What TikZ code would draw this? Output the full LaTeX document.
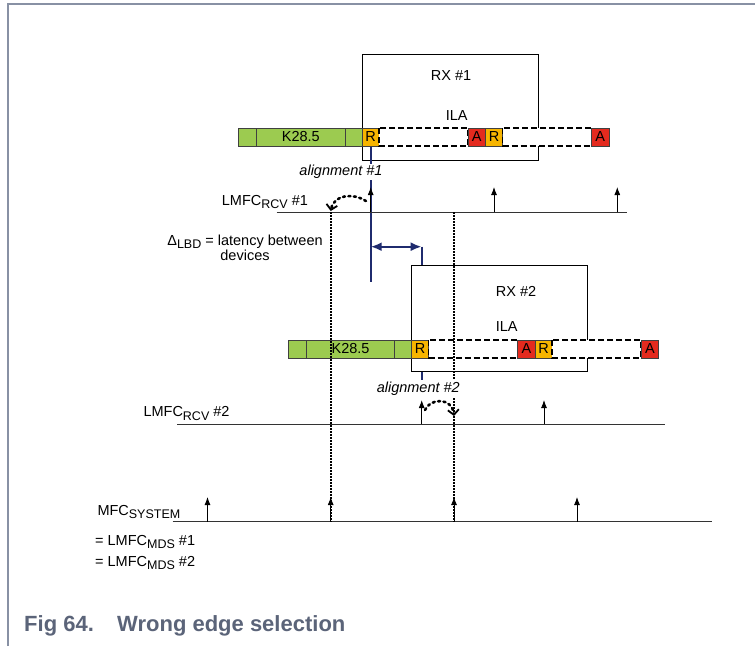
\documentclass[tikz,border=0pt]{standalone}
\usepackage{fontspec}
\setmainfont{Liberation Sans}
\usetikzlibrary{arrows.meta}
\definecolor{cgreen}{HTML}{9CCB50}
\definecolor{corange}{HTML}{F7B500}
\definecolor{cred}{HTML}{E42A1E}
\definecolor{cnavy}{HTML}{1F2B6E}
\definecolor{cframe}{HTML}{8891A4}
\definecolor{ccap}{HTML}{5B6479}
\newcommand{\subt}[1]{\raisebox{-3.5pt}{\fontsize{12.5}{13}\selectfont #1}}
\begin{document}
\begin{tikzpicture}[x=1pt,y=-1pt,
 txt/.style={font=\fontsize{14.5}{16}\selectfont, inner sep=0pt},
 ital/.style={font=\fontsize{14.5}{16}\selectfont\itshape, inner sep=1.5pt, fill=white},
 cellbox/.style={draw=black!75, line width=0.6pt, inner sep=0pt, outer sep=0pt, minimum height=18pt, anchor=west, font=\fontsize{14.5}{16}\selectfont},
 gcell/.style={cellbox, fill=cgreen},
 rcell/.style={cellbox, fill=corange},
 acell/.style={cellbox, fill=cred},
 dashbox/.style={draw=black, fill=white, line width=1.5pt, dash pattern=on 6pt off 3pt},
 rxbox/.style={draw=black, fill=white, line width=0.7pt},
 tick/.style={-{Latex[length=8pt,width=6pt]}, line width=0.9pt},
 timeline/.style={draw=black!80, line width=0.9pt},
 vdot/.style={line width=1.6pt, dash pattern=on 1.5pt off 1.5pt},
 curvy/.style={line width=2.6pt, line cap=round, dash pattern=on 2pt off 3.5pt, -{Straight Barb[length=5pt,width=11pt,line width=1.8pt]}},
 navy/.style={draw=cnavy, line width=2.4pt}
]
\fill[white] (0,0) rectangle (755,646);
\useasboundingbox (0,0) rectangle (755,646);
\draw[cframe, line width=1.8pt] (8,646) -- (8,4) -- (755,4);

% ---------- RX #1 ----------
\begin{scope}[shift={(362,54)}]
\draw[rxbox] (0,0) rectangle (176,106);
\node[gcell, minimum width=18.4pt] (g1a) at (-123.7,83) {};
\node[gcell, minimum width=88.3pt] (g1b) at (-105.3,83) {K28.5};
\node[gcell, minimum width=17pt] (g1c) at (-17,83) {};
\node[rcell, minimum width=17pt] (r1a) at (0,83) {R};
\draw[dashbox] (17,74) rectangle (106,92);
\node[acell, minimum width=17.5pt] (a1a) at (106,83) {A};
\node[rcell, minimum width=17pt] (r1b) at (123.5,83) {R};
\draw[dashbox] (140.5,74) rectangle (229.5,92);
\node[acell, minimum width=17.5pt] (a1b) at (229.5,83) {A};
\node[txt] (rx1t) at (89,22) {RX \#1};
\node[txt] (ila1) at (94.7,62) {ILA};
\end{scope}

% ---------- blue latency markers ----------
\draw[navy] (370.7,147) -- (370.7,282);
\draw[navy] (421.7,246.7) -- (421.7,265);
\draw[navy] (421.7,371) -- (421.7,380);
\draw[navy, {Latex[length=11pt,width=9pt]}-{Latex[length=11pt,width=9pt]}] (370.7,246.7) -- (421.7,246.7);

% ---------- RX #2 ----------
\begin{scope}[shift={(411.7,265)}]
\draw[rxbox] (0,0) rectangle (176,106);
\node[gcell, minimum width=18.4pt] (g2a) at (-123.7,84) {};
\node[gcell, minimum width=88.3pt] (g2b) at (-105.3,84) {K28.5};
\node[gcell, minimum width=17pt] (g2c) at (-17,84) {};
\node[rcell, minimum width=17pt] (r2a) at (0,84) {R};
\draw[dashbox] (17,75) rectangle (106,93);
\node[acell, minimum width=17.5pt] (a2a) at (106,84) {A};
\node[rcell, minimum width=17pt] (r2b) at (123.5,84) {R};
\draw[dashbox] (140.5,75) rectangle (229.5,93);
\node[acell, minimum width=17.5pt] (a2b) at (229.5,84) {A};
\node[txt] (rx2t) at (104.3,26) {RX \#2};
\node[txt] (ila2) at (95,61.7) {ILA};
\end{scope}

% ---------- timelines ----------
\coordinate (l1s) at (276.7,212.3); \coordinate (l1e) at (626.7,212.3);
\coordinate (l2s) at (177.3,424.3); \coordinate (l2e) at (665,424.3);
\coordinate (l3s) at (172.7,521.5); \coordinate (l3e) at (712,521.5);
\draw[timeline] (l1s) -- (l1e);
\draw[timeline] (l2s) -- (l2e);
\draw[timeline] (l3s) -- (l3e);

% vertical dotted alignment lines
\draw[vdot] (330.7,212.3) -- (330.7,521.5);
\draw[vdot] (454,212.3) -- (454,521.5);

% ticks
\foreach \x in {370.7,494,617.3} \draw[tick] (\x,212.3) -- (\x,187);
\foreach \x in {421.7,544} \draw[tick] (\x,424.3) -- (\x,400);
\foreach \x in {207.5,330.7,454,577} \draw[tick] (\x,521.5) -- (\x,497);

% edge selection curves
\draw[curvy] (366,201) .. controls (354,193) and (334,194) .. (330.7,211);
\draw[curvy] (425,410) .. controls (430,398) and (452,397) .. (454,416);

% ---------- labels ----------
\node[ital] (al1) at (341,172) {alignment \#1};
\node[ital] (al2) at (418.3,388.3) {alignment \#2};
\node[txt, anchor=base west] (lab1) at (221.7,205) {LMFC\subt{RCV} \#1};
\node[txt, anchor=base] (dl1) at (245,245) {Δ\subt{LBD} = latency between};
\node[txt, anchor=base] (dl2) at (245,260) {devices};
\node[txt, anchor=base west] (lab2) at (143.3,416.7) {LMFC\subt{RCV} \#2};
\node[txt, anchor=base west] (lab3) at (97.3,515) {MFC\subt{SYSTEM}};
\node[txt, anchor=base west] (lab4) at (95,545) {= LMFC\subt{MDS} \#1};
\node[txt, anchor=base west] (lab5) at (95,566) {= LMFC\subt{MDS} \#2};

% caption
\node[anchor=base west, inner sep=0pt, font=\fontsize{22}{25}\selectfont\bfseries, text=ccap] (capn) at (24,631) {Fig 64.};
\node[anchor=base west, inner sep=0pt, font=\fontsize{22}{25}\selectfont\bfseries, text=ccap] (capt) at (117,631) {Wrong edge selection};
\end{tikzpicture}
\end{document}
